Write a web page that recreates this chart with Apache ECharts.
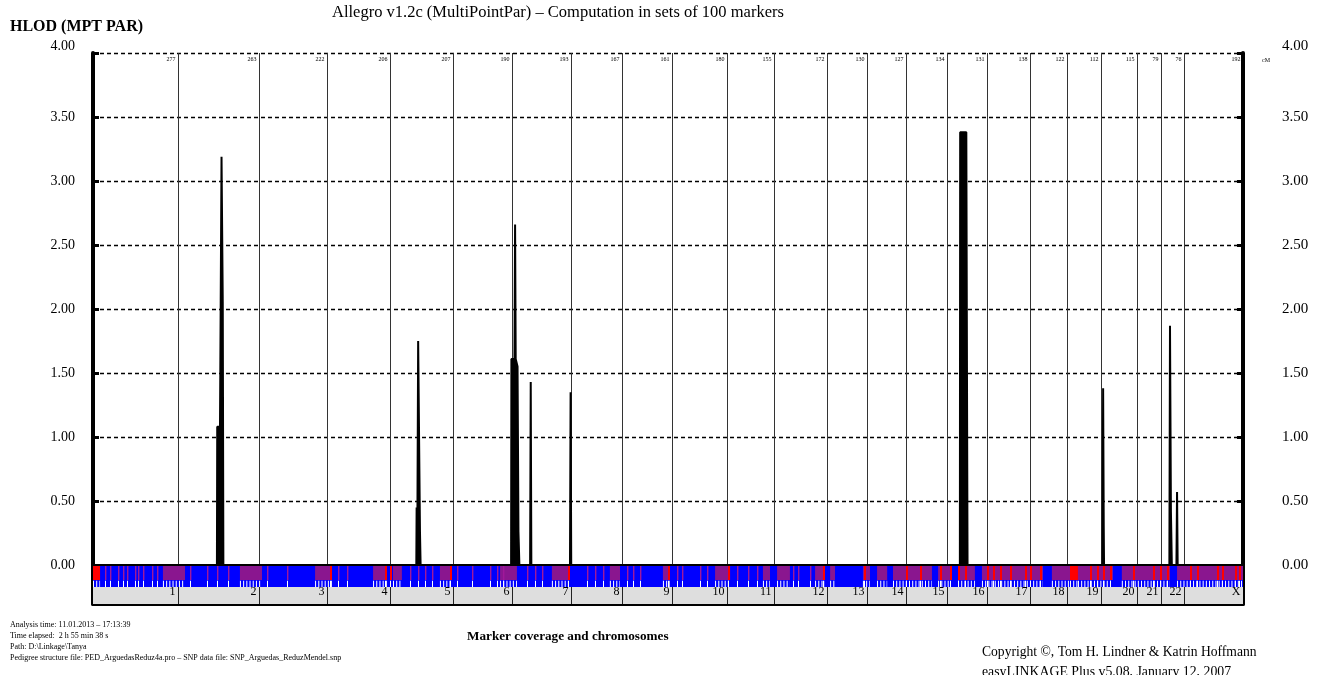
<!DOCTYPE html>
<html><head><meta charset="utf-8">
<script src="https://cdn.jsdelivr.net/npm/echarts/dist/echarts.min.js"></script>
<style>html,body{margin:0;padding:0;background:#fff}#c{width:1329px;height:675px}</style>
</head><body><div id="c"></div>
<script>
// ---------------- data ----------------
const chrNames = ['1','2','3','4','5','6','7','8','9','10','11','12','13','14','15','16','17','18','19','20','21','22','X'];
const chrLengths = [277,263,222,206,207,190,193,167,161,180,155,172,130,127,134,131,138,122,112,115,79,76,192];
const yTickLabels = ['0.00','0.50','1.00','1.50','2.00','2.50','3.00','3.50','4.00'];
// HLOD curve: [cumulative cM, HLOD]
const hlodPoints = [
  [0,0],
  [404,0],[405,1.08],[414,1.08],[419,3.19],[423,2.05],[425,0],
  [1054,0],[1055,0.45],[1057,0.05],[1060,1.75],[1063,1.75],[1066,0.25],[1068,0],
  [1363,0],[1364,1.61],[1374,1.61],[1376,2.66],[1378,1.61],[1382,1.61],[1384,1.55],[1387,0.26],[1390,0],
  [1425,0],[1427,1.43],[1429,0],
  [1555,0],[1557,1.35],[1559,0],
  [2826,0],[2827,3.38],[2847,3.38],[2849,1.6],[2851,0],
  [3291,0],[3293,1.38],[3295,0.3],[3296,0],
  [3509,0],[3511,1.87],[3514,0.42],[3517,0],
  [3532,0],[3534,0.57],[3536,0],
  [3749,0]
];
// marker coverage band (cumulative cM)
const redLines = [773,952,968,1164,1549,1875,2070,2380,2513,2650,2696,2761,2794,2820,2843,2914,2934,2957,2989,3038,3055,3087,3250,3273,3293,3315,3390,3455,3478,3501,3576,3599,3664,3680,3723,3736];
const purpleLines = [39,55,81,98,111,137,147,163,192,209,316,372,404,440,567,632,799,828,1033,1060,1082,1105,1187,1236,1294,1317,1337,1415,1441,1464,1610,1637,1663,1741,1760,1783,1904,1920,1979,2002,2099,2135,2165,2282,2298,2337];
const purpleBlocks = [[228,300],[479,551],[724,779],[913,958],[978,1007],[1131,1170],[1327,1382],[1496,1549],[1685,1718],[1858,1881],[2028,2077],[2184,2207],[2230,2272],[2354,2386],[2403,2419],[2510,2533],[2556,2589],[2608,2735],[2755,2794],[2820,2875],[2898,3097],[3126,3185],[3211,3325],[3354,3511],[3534,3749]];
const redBlocks = [[0,23],[3185,3211]];

// ---------------- derived ----------------
const chrEnds = [];
chrLengths.reduce((acc, l) => { chrEnds.push(acc + l); return acc + l; }, 0);
const genomeLen = chrEnds[chrEnds.length - 1];
const SERIF = '"Liberation Serif", "Times New Roman", serif';

const chart = echarts.init(document.getElementById('c'), null, {renderer: 'canvas'});

function bandRect(api, s, e, color, y0, y1) {
  const a = api.coord([s, y1]);
  const b = api.coord([e, y0]);
  return {type: 'rect', shape: {x: a[0], y: a[1], width: Math.max(b[0] - a[0], 1), height: b[1] - a[1]}, style: {fill: color}};
}
function blockWithTicks(api, s, e, color) {
  const a = api.coord([s, 0.15]);
  const b = api.coord([e, 0.15]);
  const lo = api.coord([s, 0]);
  const hi = api.coord([s, 0.3]);
  return {type: 'group', children: [
    bandRect(api, s, e, color, 0.33, 1),
    {type: 'line', shape: {x1: a[0], y1: a[1], x2: b[0], y2: b[1]},
     style: {stroke: '#ffffff', lineWidth: lo[1] - hi[1], lineDash: [1, 2.2]}}
  ]};
}
function stripe(api, v, color, w, y0, y1) {
  const a = api.coord([v, y1]); const b = api.coord([v, y0]);
  return {type: 'rect', shape: {x: Math.round(a[0]), y: a[1], width: w, height: b[1] - a[1]}, style: {fill: color}};
}

const yLabelFmt = (v) => {
  const t = yTickLabels[Math.round(v * 2)];
  return v >= 4 ? '{top|' + t + '}' : t;
};

const option = {
  backgroundColor: '#ffffff',
  animation: false,
  grid: [
    {left: 93, top: 53, width: 1150, height: 512},
    {left: 93, top: 566, width: 1150, height: 21},
    {left: 93, top: 587, width: 1150, height: 17}
  ],
  xAxis: [
    {gridIndex: 0, type: 'value', min: 0, max: genomeLen, position: 'top',
     axisLine: {show: true, lineStyle: {color: '#000', width: 3}}, axisTick: {show: false}, axisLabel: {show: false}, splitLine: {show: false}},
    {gridIndex: 1, type: 'value', min: 0, max: genomeLen, show: false},
    {gridIndex: 2, type: 'value', min: 0, max: genomeLen, position: 'bottom',
     axisLine: {show: true, lineStyle: {color: '#000', width: 4}}, axisTick: {show: false}, axisLabel: {show: false}, splitLine: {show: false}}
  ],
  yAxis: [
    {gridIndex: 0, type: 'value', min: 0, max: 4, interval: 0.5, position: 'left',
     axisLine: {show: true, lineStyle: {color: '#000', width: 4}},
     axisTick: {show: true, inside: true, length: 6, lineStyle: {color: '#000', width: 3}},
     axisLabel: {color: '#000', fontFamily: SERIF, fontSize: 14, margin: 18, formatter: yLabelFmt,
                 rich: {top: {fontFamily: SERIF, fontSize: 14, color: '#000', padding: [0, 0, 14, 0]}}},
     splitLine: {show: true, lineStyle: {color: '#000', width: 1.3, type: [4, 3]}}},
    {gridIndex: 0, type: 'value', min: 0, max: 4, interval: 0.5, position: 'right',
     axisLine: {show: true, lineStyle: {color: '#000', width: 4}},
     axisTick: {show: true, inside: true, length: 6, lineStyle: {color: '#000', width: 3}},
     axisLabel: {color: '#000', fontFamily: SERIF, fontSize: 15, margin: 39, formatter: yLabelFmt,
                 rich: {top: {fontFamily: SERIF, fontSize: 15, color: '#000', padding: [0, 0, 14, 0]}}},
     splitLine: {show: false}},
    {gridIndex: 1, type: 'value', min: 0, max: 1, show: true, axisLine: {show: true, lineStyle: {color: '#000', width: 4}}, axisTick: {show: false}, axisLabel: {show: false}, splitLine: {show: false}},
    {gridIndex: 1, type: 'value', min: 0, max: 1, position: 'right', show: true, axisLine: {show: true, lineStyle: {color: '#000', width: 4}}, axisTick: {show: false}, axisLabel: {show: false}, splitLine: {show: false}},
    {gridIndex: 2, type: 'value', min: 0, max: 1, show: true, axisLine: {show: true, lineStyle: {color: '#000', width: 4}}, axisTick: {show: false}, axisLabel: {show: false}, splitLine: {show: false}},
    {gridIndex: 2, type: 'value', min: 0, max: 1, position: 'right', show: true, axisLine: {show: true, lineStyle: {color: '#000', width: 4}}, axisTick: {show: false}, axisLabel: {show: false}, splitLine: {show: false}}
  ],
  series: [
    // chromosome boundaries + cM labels
    {type: 'custom', xAxisIndex: 0, yAxisIndex: 0, z: 3, silent: true,
     data: chrEnds.map((e, i) => [e, chrLengths[i]]),
     renderItem: (params, api) => {
       const x = api.value(0);
       const top = api.coord([x, 4]);
       const bot = api.coord([x, 0]);
       const xs = Math.round(top[0]) + 0.5;
       const ch = [];
       if (params.dataIndex < chrEnds.length - 1) {
         ch.push({type: 'line', shape: {x1: xs, y1: top[1], x2: xs, y2: bot[1]}, style: {stroke: '#333', lineWidth: 1}});
       }
       ch.push({type: 'text', style: {text: String(api.value(1)), x: xs - 3, y: top[1] + 6, align: 'right', verticalAlign: 'middle', font: '6px ' + SERIF, fill: '#000'}});
       return {type: 'group', children: ch};
     }},
    // HLOD curve
    {type: 'line', xAxisIndex: 0, yAxisIndex: 0, z: 5, data: hlodPoints, showSymbol: false, symbol: 'none',
     lineStyle: {color: '#000', width: 2}, areaStyle: {color: '#000', opacity: 1}},
    // band: blue base
    {type: 'custom', xAxisIndex: 1, yAxisIndex: 2, z: 2, silent: true, data: [[0, genomeLen]],
     renderItem: (p, api) => bandRect(api, api.value(0), api.value(1), '#0000ff', 0, 1)},
    // band: purple blocks
    {type: 'custom', xAxisIndex: 1, yAxisIndex: 2, z: 3, silent: true, data: purpleBlocks,
     renderItem: (p, api) => blockWithTicks(api, api.value(0), api.value(1), '#8a168f')},
    // band: red blocks
    {type: 'custom', xAxisIndex: 1, yAxisIndex: 2, z: 4, silent: true, data: redBlocks,
     renderItem: (p, api) => blockWithTicks(api, api.value(0), api.value(1), '#ff0000')},
    // band: purple lines
    {type: 'custom', xAxisIndex: 1, yAxisIndex: 2, z: 4, silent: true, data: purpleLines.map(v => [v]),
     renderItem: (p, api) => stripe(api, api.value(0), '#a0189a', 1.4, 0.33, 1)},
    // band: red lines
    {type: 'custom', xAxisIndex: 1, yAxisIndex: 2, z: 5, silent: true, data: redLines.map(v => [v]),
     renderItem: (p, api) => stripe(api, api.value(0), '#ff0000', 2, 0.33, 1)},
    // band: white ticks below stripes
    {type: 'custom', xAxisIndex: 1, yAxisIndex: 2, z: 6, silent: true, data: purpleLines.concat(redLines).map(v => [v]),
     renderItem: (p, api) => stripe(api, api.value(0), '#ffffff', 1, 0, 0.3)},
    // gray chromosome band
    {type: 'custom', xAxisIndex: 2, yAxisIndex: 4, z: 2, silent: true, data: [[0, genomeLen]],
     renderItem: (p, api) => bandRect(api, api.value(0), api.value(1), '#dedede', 0, 1)},
    {type: 'custom', xAxisIndex: 2, yAxisIndex: 4, z: 3, silent: true,
     data: chrEnds.map((e, i) => [e, i]),
     renderItem: (params, api) => {
       const x = api.value(0);
       const top = api.coord([x, 1]);
       const bot = api.coord([x, 0]);
       const xs = Math.round(top[0]) + 0.5;
       const ch = [];
       if (params.dataIndex < chrEnds.length - 1) {
         ch.push({type: 'line', shape: {x1: xs, y1: top[1], x2: xs, y2: bot[1]}, style: {stroke: '#222', lineWidth: 1}});
       }
       ch.push({type: 'text', style: {text: chrNames[api.value(1)], x: xs - 3, y: top[1] + 5, align: 'right', verticalAlign: 'middle', font: '12px ' + SERIF, fill: '#000'}});
       return {type: 'group', children: ch};
     }}
  ],
  graphic: [
    {type: 'text', left: 10, top: 19, style: {text: 'HLOD (MPT PAR)', font: 'bold 16px ' + SERIF, fill: '#000'}},
    {type: 'text', left: 332, top: 4, style: {text: 'Allegro v1.2c (MultiPointPar) \u2013 Computation in sets of 100 markers', font: '16.5px ' + SERIF, fill: '#000'}},
    {type: 'text', left: 1262, top: 57, style: {text: 'cM', font: '6px ' + SERIF, fill: '#000'}},
    {type: 'text', left: 467, top: 630, style: {text: 'Marker coverage and chromosomes', font: 'bold 13.2px ' + SERIF, fill: '#000'}},
    {type: 'text', left: 10, top: 619, style: {text: 'Analysis time: 11.01.2013 \u2013 17:13:39\nTime elapsed:  2 h 55 min 38 s\nPath: D:\\Linkage\\Tanya\nPedigree structure file: PED_ArguedasReduz4a.pro \u2013 SNP data file: SNP_Arguedas_ReduzMendel.snp', font: '8px ' + SERIF, lineHeight: 11, fill: '#000'}},
    {type: 'text', left: 982, top: 645, style: {text: 'Copyright \u00a9, Tom H. Lindner & Katrin Hoffmann', font: '13.6px ' + SERIF, fill: '#000'}},
    {type: 'text', left: 982, top: 665, style: {text: 'easyLINKAGE Plus v5.08, January 12, 2007', font: '13.8px ' + SERIF, fill: '#000'}}
  ]
};
chart.setOption(option);
</script>
</body></html>
